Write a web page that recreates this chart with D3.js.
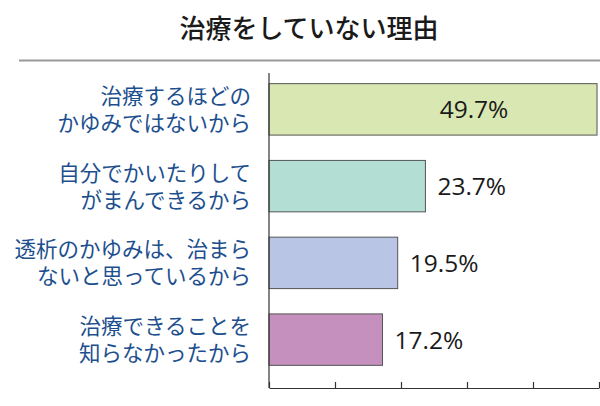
<!DOCTYPE html>
<html><head><meta charset="utf-8">
<script src="https://cdn.jsdelivr.net/npm/d3@7"></script>
<style>body{margin:0;background:#fff}svg{display:block}</style>
</head><body><svg id="c" width="600" height="406"></svg>
<script>
const title = "治療をしていない理由";
const categories = [
  ["治療するほどの","かゆみではないから"],
  ["自分でかいたりして","がまんできるから"],
  ["透析のかゆみは、治まら","ないと思っているから"],
  ["治療できることを","知らなかったから"]
];
const values = [49.7, 23.7, 19.5, 17.2];
const colors = ["#d9e7b2", "#b3ded4", "#b9c5e5", "#c690be"];
const tickValues = [0, 10, 20, 30, 40, 50];

const svg = d3.select("#c");
const x = d3.scaleLinear().domain([0, 50]).range([269, 599]);
const y = d3.scaleBand().domain(d3.range(categories.length)).range([71, 378]).paddingInner(0.33).paddingOuter(0.165);

svg.append("text").attr("x", 309).attr("y", 38).attr("text-anchor", "middle")
  .attr("font-family", "'Noto Sans CJK JP'").attr("font-weight", 500).attr("font-size", 26)
  .attr("fill", "#1a1a1a").text(title);
svg.append("line").attr("x1", 19).attr("x2", 600).attr("y1", 60.5).attr("y2", 60.5)
  .attr("stroke", "#999").attr("stroke-width", 2);

// bars
svg.selectAll("rect.bar").data(values).join("rect").attr("class", "bar")
  .attr("x", x(0)).attr("y", (d, i) => y(i))
  .attr("width", d => x(d) - x(0)).attr("height", y.bandwidth())
  .attr("fill", (d, i) => colors[i]).attr("stroke", "#555").attr("stroke-width", 1);

// x axis (ticks upward)
const xAxis = d3.axisBottom(x).tickValues(tickValues).tickSize(-6).tickFormat("").tickSizeOuter(0);
const gx = svg.append("g").attr("transform", "translate(0,388)").call(xAxis);
gx.select(".domain").attr("stroke", "#333").attr("stroke-width", 1.2);
gx.selectAll(".tick line").attr("stroke", "#333").attr("stroke-width", 1.2);

// y axis line
svg.append("line").attr("x1", x(0)).attr("x2", x(0)).attr("y1", 73).attr("y2", 388)
  .attr("stroke", "#333").attr("stroke-width", 1.2);

// category labels: one text per line
const lines = [];
categories.forEach((c, i) => c.forEach((t, j) => lines.push({i, j, t})));
svg.selectAll("text.cat").data(lines).join("text").attr("class", "cat")
  .attr("text-anchor", "end").attr("font-family", "'Noto Sans CJK JP'")
  .attr("font-size", 21.5).attr("fill", "#1d4f8e")
  .attr("x", 251)
  .attr("y", d => y(d.i) + y.bandwidth() / 2 - 13.5 + d.j * 27 + 8)
  .text(d => d.t);

// value labels
svg.selectAll("text.val").data(values).join("text").attr("class", "val")
  .attr("x", (d, i) => i === 0 ? (x(0) + x(d)) / 2 + 41 : x(d) + 12)
  .attr("y", (d, i) => y(i) + y.bandwidth() / 2 + 9)
  .attr("text-anchor", (d, i) => i === 0 ? "middle" : "start")
  .attr("font-family", "'Open Sans'").attr("font-size", 24.5).attr("fill", "#1a1a1a")
  .text(d => d.toFixed(1) + "%");
</script></body></html>
